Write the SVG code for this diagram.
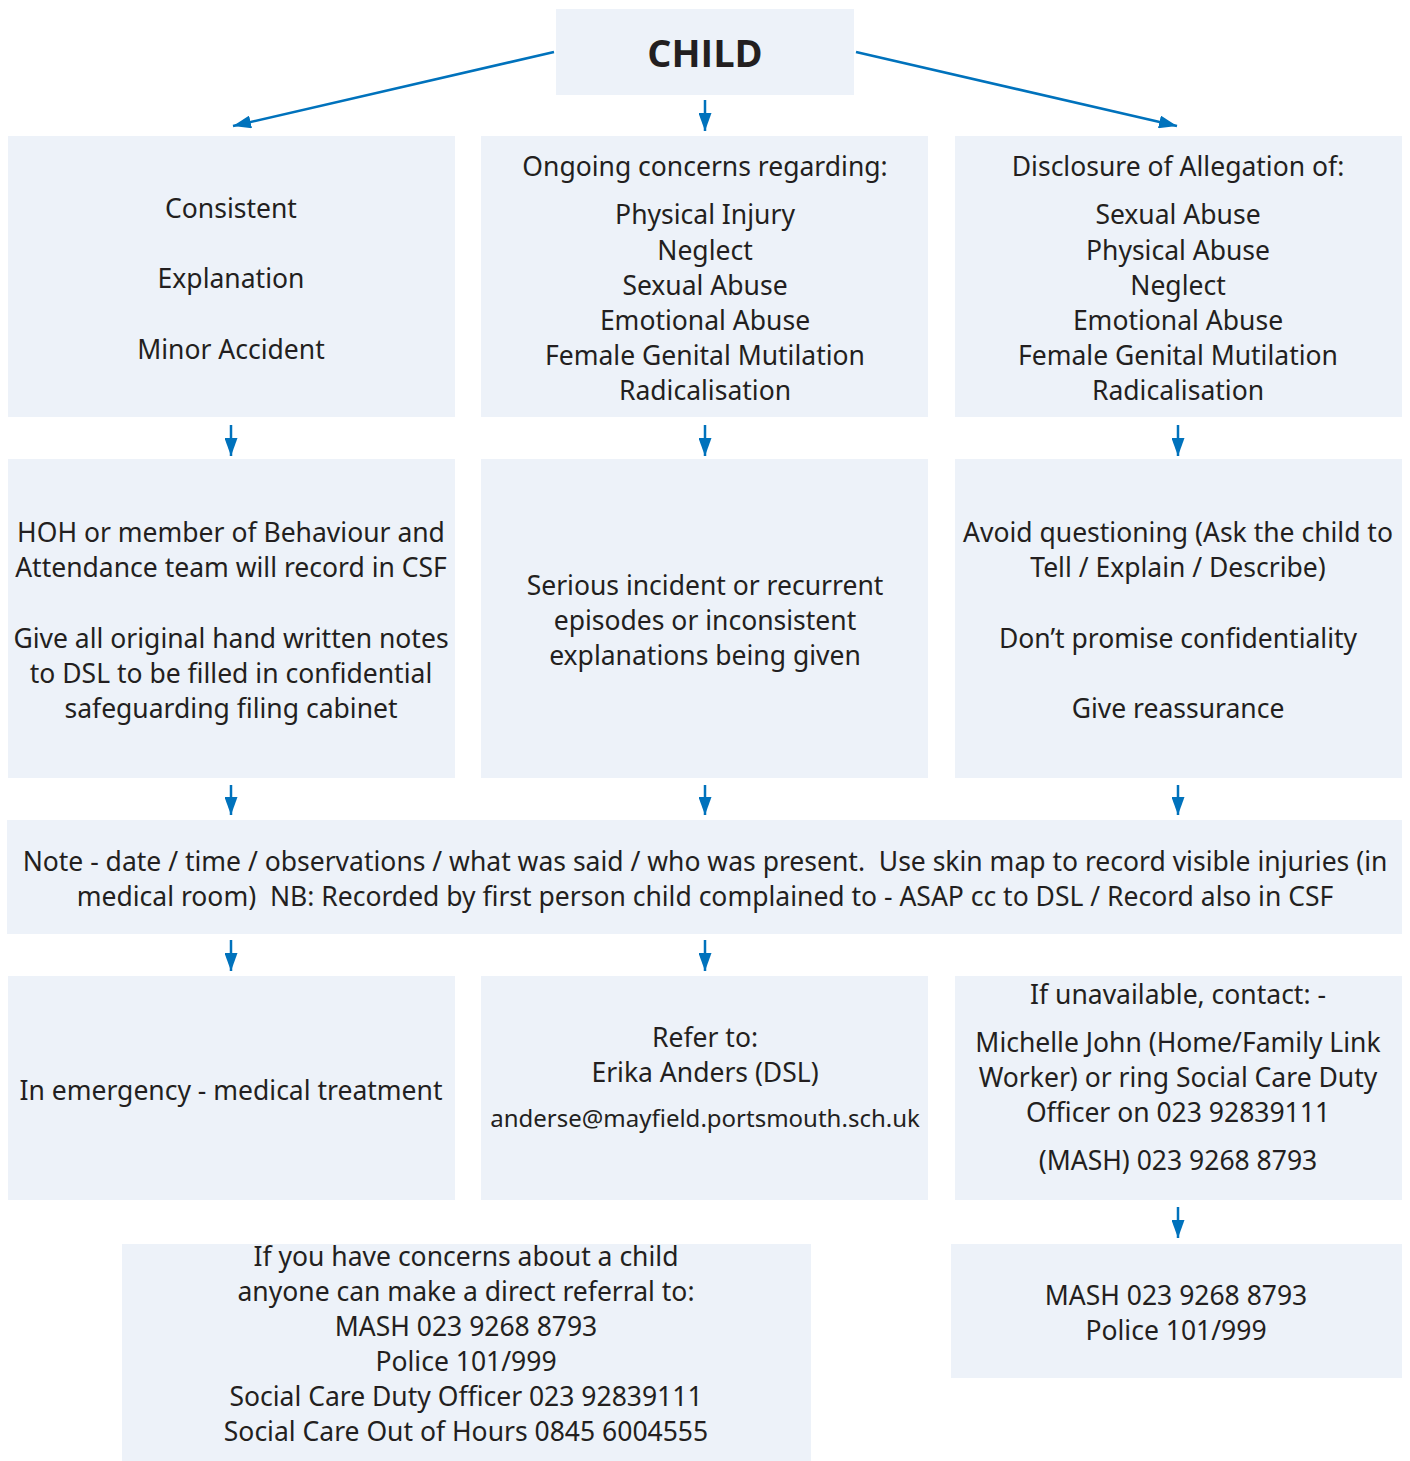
<svg xmlns="http://www.w3.org/2000/svg" width="1410" height="1461" viewBox="0 0 1410 1461">
<defs>
<marker id="ah" viewBox="0 0 18 13" refX="18" refY="6.5" markerWidth="18" markerHeight="13" markerUnits="userSpaceOnUse" orient="auto">
<path d="M0,0 L18,6.5 L0,13 z" fill="#0072BC"/>
</marker>
<style>
.box{fill:#EDF2F9;}
.t{font-family:"Noto Sans","Open Sans","DejaVu Sans",sans-serif;font-size:26.5px;fill:#231F20;text-anchor:middle;white-space:pre;}
.s{font-size:24px;}
.h{font-family:"Open Sans","Noto Sans",sans-serif;font-size:38px;font-weight:bold;fill:#231F20;text-anchor:middle;}
.c{stroke:#0072BC;stroke-width:2.5;fill:none;}
</style>
</defs>
<rect width="1410" height="1461" fill="#FFFFFF"/>
<g id="connectors">
<path class="c" d="M554,52 L233,126" marker-end="url(#ah)"/>
<path class="c" d="M856,52 L1177,126" marker-end="url(#ah)"/>
<path class="c" d="M705,100 L705,131" marker-end="url(#ah)"/>
<path class="c" d="M231,425 L231,456" marker-end="url(#ah)"/>
<path class="c" d="M705,425 L705,456" marker-end="url(#ah)"/>
<path class="c" d="M1178,425 L1178,456" marker-end="url(#ah)"/>
<path class="c" d="M231,785 L231,815" marker-end="url(#ah)"/>
<path class="c" d="M705,785 L705,815" marker-end="url(#ah)"/>
<path class="c" d="M1178,785 L1178,815" marker-end="url(#ah)"/>
<path class="c" d="M231,940 L231,971" marker-end="url(#ah)"/>
<path class="c" d="M705,940 L705,971" marker-end="url(#ah)"/>
<path class="c" d="M1178,1207 L1178,1238" marker-end="url(#ah)"/>
</g>
<g id="child">
<rect class="box" x="556" y="9" width="298" height="86"/>
<text class="h" x="705" y="67">CHILD</text>
</g>
<g id="consistent">
<rect class="box" x="8" y="136" width="447" height="281"/>
<text class="t" x="231" y="218">Consistent</text>
<text class="t" x="231" y="288">Explanation</text>
<text class="t" x="231" y="359">Minor Accident</text>
</g>
<g id="ongoing">
<rect class="box" x="481" y="136" width="447" height="281"/>
<text class="t" x="705" y="176">Ongoing concerns regarding:</text>
<text class="t" x="705" y="224">Physical Injury</text>
<text class="t" x="705" y="260">Neglect</text>
<text class="t" x="705" y="295">Sexual Abuse</text>
<text class="t" x="705" y="330">Emotional Abuse</text>
<text class="t" x="705" y="365">Female Genital Mutilation</text>
<text class="t" x="705" y="400">Radicalisation</text>
</g>
<g id="disclosure">
<rect class="box" x="955" y="136" width="447" height="281"/>
<text class="t" x="1178" y="176">Disclosure of Allegation of:</text>
<text class="t" x="1178" y="224">Sexual Abuse</text>
<text class="t" x="1178" y="260">Physical Abuse</text>
<text class="t" x="1178" y="295">Neglect</text>
<text class="t" x="1178" y="330">Emotional Abuse</text>
<text class="t" x="1178" y="365">Female Genital Mutilation</text>
<text class="t" x="1178" y="400">Radicalisation</text>
</g>
<g id="hoh">
<rect class="box" x="8" y="459" width="447" height="319"/>
<text class="t" x="231" y="542">HOH or member of Behaviour and</text>
<text class="t" x="231" y="577">Attendance team will record in CSF</text>
<text class="t" x="231" y="648">Give all original hand written notes</text>
<text class="t" x="231" y="683">to DSL to be filled in confidential</text>
<text class="t" x="231" y="718">safeguarding filing cabinet</text>
</g>
<g id="serious">
<rect class="box" x="481" y="459" width="447" height="319"/>
<text class="t" x="705" y="595">Serious incident or recurrent</text>
<text class="t" x="705" y="630">episodes or inconsistent</text>
<text class="t" x="705" y="665">explanations being given</text>
</g>
<g id="avoid">
<rect class="box" x="955" y="459" width="447" height="319"/>
<text class="t" x="1178" y="542">Avoid questioning (Ask the child to</text>
<text class="t" x="1178" y="577">Tell / Explain / Describe)</text>
<text class="t" x="1178" y="648">Don’t promise confidentiality</text>
<text class="t" x="1178" y="718">Give reassurance</text>
</g>
<g id="note">
<rect class="box" x="7" y="820" width="1395" height="114"/>
<text class="t" x="705" y="871" xml:space="preserve">Note - date / time / observations / what was said / who was present.  Use skin map to record visible injuries (in</text>
<text class="t" x="705" y="906" xml:space="preserve">medical room)  NB: Recorded by first person child complained to - ASAP cc to DSL / Record also in CSF</text>
</g>
<g id="emergency">
<rect class="box" x="8" y="976" width="447" height="224"/>
<text class="t" x="231" y="1100">In emergency - medical treatment</text>
</g>
<g id="refer">
<rect class="box" x="481" y="976" width="447" height="224"/>
<text class="t" x="705" y="1047">Refer to:</text>
<text class="t" x="705" y="1082">Erika Anders (DSL)</text>
<text class="t s" x="705" y="1127">anderse@mayfield.portsmouth.sch.uk</text>
</g>
<g id="unavailable">
<rect class="box" x="955" y="976" width="447" height="224"/>
<text class="t" x="1178" y="1004">If unavailable, contact: -</text>
<text class="t" x="1178" y="1052">Michelle John (Home/Family Link</text>
<text class="t" x="1178" y="1087">Worker) or ring Social Care Duty</text>
<text class="t" x="1178" y="1122">Officer on 023 92839111</text>
<text class="t" x="1178" y="1170">(MASH) 023 9268 8793</text>
</g>
<g id="referral">
<rect class="box" x="122" y="1244" width="689" height="217"/>
<text class="t" x="466" y="1266">If you have concerns about a child</text>
<text class="t" x="466" y="1301">anyone can make a direct referral to:</text>
<text class="t" x="466" y="1336">MASH 023 9268 8793</text>
<text class="t" x="466" y="1371">Police 101/999</text>
<text class="t" x="466" y="1406">Social Care Duty Officer 023 92839111</text>
<text class="t" x="466" y="1441">Social Care Out of Hours 0845 6004555</text>
</g>
<g id="mash">
<rect class="box" x="951" y="1244" width="451" height="134"/>
<text class="t" x="1176" y="1305">MASH 023 9268 8793</text>
<text class="t" x="1176" y="1340">Police 101/999</text>
</g>
</svg>
